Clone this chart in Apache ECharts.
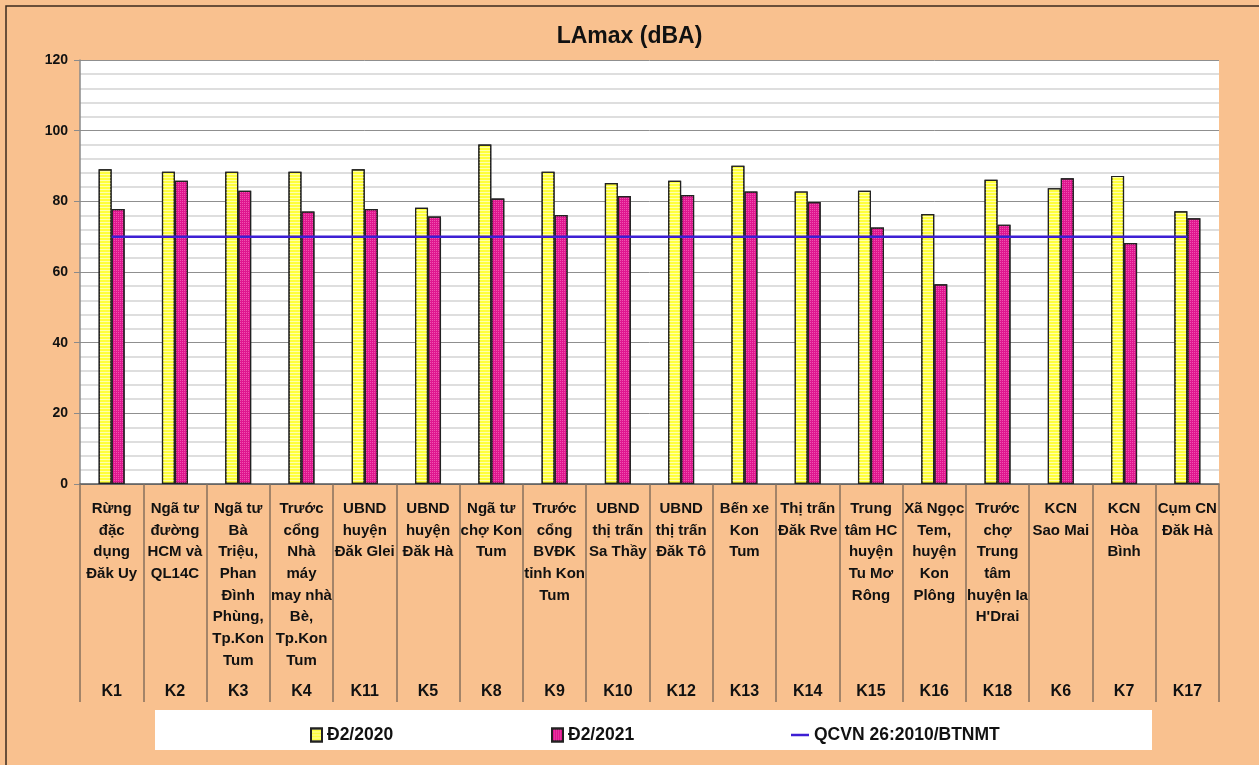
<!DOCTYPE html>
<html>
<head>
<meta charset="utf-8">
<title>LAmax (dBA)</title>
<script src="https://cdn.jsdelivr.net/npm/echarts@6/dist/echarts.min.js"></script>
<style>
  html, body { margin: 0; padding: 0; background: #F9C18F; }
  #chart { width: 1259px; height: 765px; }
</style>
</head>
<body>
<div id="chart"></div>
<script>
// diem quan trac
var tenDiem = [
  'Rừng\nđặc\ndụng\nĐăk Uy',
  'Ngã tư\nđường\nHCM và\nQL14C',
  'Ngã tư\nBà\nTriệu,\nPhan\nĐình\nPhùng,\nTp.Kon\nTum',
  'Trước\ncổng\nNhà\nmáy\nmay nhà\nBè,\nTp.Kon\nTum',
  'UBND\nhuyện\nĐăk Glei',
  'UBND\nhuyện\nĐăk Hà',
  'Ngã tư\nchợ Kon\nTum',
  'Trước\ncổng\nBVĐK\ntỉnh Kon\nTum',
  'UBND\nthị trấn\nSa Thầy',
  'UBND\nthị trấn\nĐăk Tô',
  'Bến xe\nKon\nTum',
  'Thị trấn\nĐăk Rve',
  'Trung\ntâm HC\nhuyện\nTu Mơ\nRông',
  'Xã Ngọc\nTem,\nhuyện\nKon\nPlông',
  'Trước\nchợ\nTrung\ntâm\nhuyện Ia\nH\'Drai',
  'KCN\nSao Mai',
  'KCN\nHòa\nBình',
  'Cụm CN\nĐăk Hà'
]
var maDiem = ['K1', 'K2', 'K3', 'K4', 'K11', 'K5', 'K8', 'K9', 'K10', 'K12', 'K13', 'K14', 'K15', 'K16', 'K18', 'K6', 'K7', 'K17']

var dot2020 = [89.1, 88.4, 88.4, 88.4, 89.1, 78.2, 96.1, 88.4, 85.2, 85.8, 90.1, 82.8, 83.0, 76.4, 86.1, 83.7, 87.2, 77.2]
var dot2021 = [77.8, 85.8, 83.0, 77.1, 77.8, 75.7, 80.8, 76.1, 81.5, 81.8, 82.8, 79.8, 72.6, 56.5, 73.4, 86.5, 68.2, 75.2]
// gioi han QCVN 26:2010/BTNMT
var quyChuan = [70, 70, 70, 70, 70, 70, 70, 70, 70, 70, 70, 70, 70, 70, 70, 70, 70, 70]

var yTicks = [0, 20, 40, 60, 80, 100, 120]

var FONT = '"Liberation Sans", Arial, sans-serif'

var chart = echarts.init(document.getElementById('chart'))

chart.setOption({
  backgroundColor: '#F9C18F',
  animation: false,
  textStyle: { fontFamily: FONT },
  title: {
    text: 'LAmax (dBA)',
    left: 'center',
    top: 20,
    textStyle: { fontFamily: FONT, fontWeight: 'bold', fontSize: 23, color: '#111' }
  },
  graphic: [
    {
      type: 'polyline',
      shape: { points: [[6, 765], [6, 6], [1259, 6]] },
      style: { stroke: '#3b2a1e', lineWidth: 1.5, fill: null },
      silent: true
    },
    {
      type: 'rect',
      shape: { x: 155, y: 710, width: 997, height: 40 },
      style: { fill: '#ffffff' },
      silent: true
    }
  ],
  legend: [
    {
      data: ['Đ2/2020'], left: 305, top: 721, icon: 'rect',
      itemWidth: 11, itemHeight: 13, itemGap: 4,
      textStyle: { fontFamily: FONT, fontWeight: 'bold', fontSize: 17.5, color: '#111' }
    },
    {
      data: ['Đ2/2021'], left: 546, top: 721, icon: 'rect',
      itemWidth: 11, itemHeight: 13,
      textStyle: { fontFamily: FONT, fontWeight: 'bold', fontSize: 17.5, color: '#111' }
    },
    {
      data: ['QCVN 26:2010/BTNMT'], left: 786, top: 721, icon: 'rect',
      itemWidth: 18, itemHeight: 2.5,
      textStyle: { fontFamily: FONT, fontWeight: 'bold', fontSize: 17.5, color: '#111' }
    }
  ],
  grid: {
    left: 80,
    right: 40,
    top: 60,
    bottom: 281,
    show: true,
    backgroundColor: '#ffffff',
    borderWidth: 0
  },
  xAxis: [
    {
      type: 'category',
      data: tenDiem,
      axisLine: { lineStyle: { color: '#5a5a5a', width: 1.5 } },
      axisTick: {
        show: true,
        interval: 0,
        length: 218,
        lineStyle: { color: '#86705e', width: 1.5 }
      },
      axisLabel: {
        interval: 0,
        margin: 14,
        verticalAlign: 'top',
        fontFamily: FONT,
        fontWeight: 'bold',
        fontSize: 15,
        lineHeight: 21.7,
        color: '#111'
      }
    },
    {
      type: 'category',
      data: maDiem,
      position: 'bottom',
      axisLine: { show: false },
      axisTick: { show: false },
      axisLabel: {
        interval: 0,
        margin: 200,
        verticalAlign: 'top',
        fontFamily: FONT,
        fontWeight: 'bold',
        fontSize: 16,
        color: '#111'
      }
    }
  ],
  yAxis: {
    type: 'value',
    min: yTicks[0],
    max: yTicks[yTicks.length - 1],
    interval: 20,
    axisLine: { show: true, lineStyle: { color: '#8a8a8a', width: 1.5 } },
    axisTick: { show: true, length: 6, lineStyle: { color: '#8a8a8a' } },
    axisLabel: {
      margin: 12,
      fontFamily: FONT,
      fontWeight: 'bold',
      fontSize: 14,
      color: '#111'
    },
    splitLine: { lineStyle: { color: '#8f8f8f', width: 1 } },
    minorTick: { show: false, splitNumber: 5 },
    minorSplitLine: { show: true, lineStyle: { color: '#d4d4d4', width: 1.5 } }
  },
  series: [
    {
      name: 'Đ2/2020',
      type: 'bar',
      data: dot2020,
      barWidth: 13,
      barGap: '0%',
      itemStyle: {
        color: '#FFFF3C',
        borderColor: '#222',
        borderWidth: 1.2,
        decal: {
          symbol: 'rect',
          symbolSize: 1,
          dashArrayX: [1, 0],
          dashArrayY: [1, 2],
          color: 'rgba(255, 255, 190, 0.85)'
        }
      }
    },
    {
      name: 'Đ2/2021',
      type: 'bar',
      data: dot2021,
      barWidth: 13,
      barGap: '0%',
      itemStyle: {
        color: '#DF168F',
        borderColor: '#222',
        borderWidth: 1.2,
        decal: {
          symbol: 'rect',
          symbolSize: 1,
          dashArrayX: [1, 1],
          dashArrayY: [1, 1],
          color: 'rgba(245, 110, 190, 0.7)'
        }
      }
    },
    {
      name: 'QCVN 26:2010/BTNMT',
      type: 'line',
      data: quyChuan,
      showSymbol: false,
      symbol: 'none',
      z: 5,
      itemStyle: { color: '#3D1FD4' },
      lineStyle: { color: '#3D1FD4', width: 2.5 }
    }
  ]
})
</script>
</body>
</html>
